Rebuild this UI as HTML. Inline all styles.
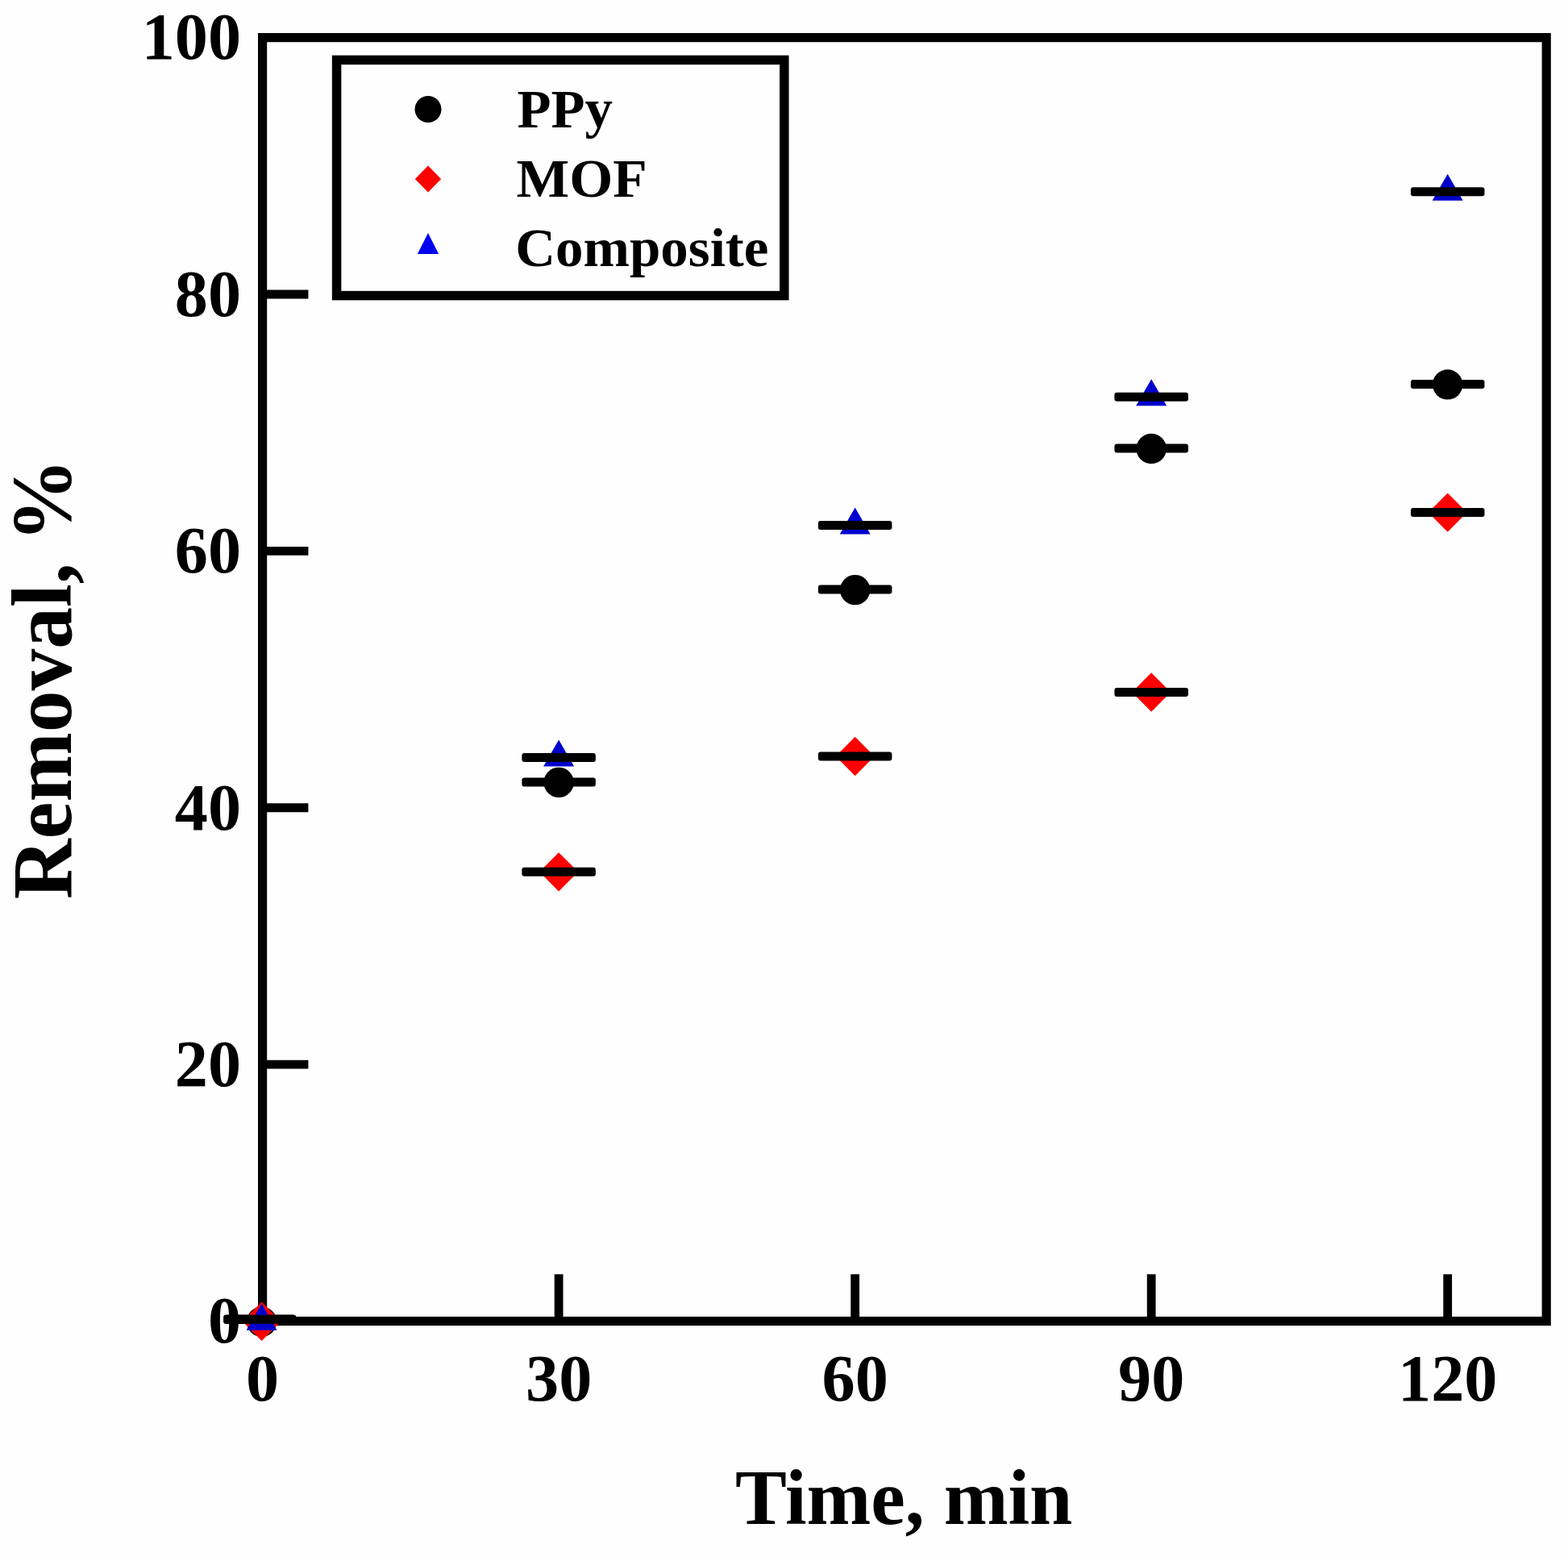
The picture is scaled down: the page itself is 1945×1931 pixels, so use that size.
<!DOCTYPE html>
<html lang="en">
<head>
<meta charset="utf-8">
<title>Removal vs Time</title>
<style>
html,body{margin:0;padding:0;background:#fefefe;}
body{width:1945px;height:1931px;overflow:hidden;}
svg{display:block;filter:blur(0.7px);}
text{fill:#000;}
</style>
</head>
<body>
<svg width="1945" height="1931" viewBox="0 0 1945 1931">
<rect x="0" y="0" width="1945" height="1931" fill="#fefefe"/>
<rect x="325.60" y="46.60" width="1592.60" height="1591.90" fill="none" stroke="#000" stroke-width="11.2"/>
<line x1="325.60" y1="1320.12" x2="382.40" y2="1320.12" stroke="#000" stroke-width="10.8"/>
<line x1="325.60" y1="1001.74" x2="382.40" y2="1001.74" stroke="#000" stroke-width="10.8"/>
<line x1="325.60" y1="683.36" x2="382.40" y2="683.36" stroke="#000" stroke-width="10.8"/>
<line x1="325.60" y1="364.98" x2="382.40" y2="364.98" stroke="#000" stroke-width="10.8"/>
<line x1="693.12" y1="1638.50" x2="693.12" y2="1580.30" stroke="#000" stroke-width="10.8"/>
<line x1="1060.65" y1="1638.50" x2="1060.65" y2="1580.30" stroke="#000" stroke-width="10.8"/>
<line x1="1428.17" y1="1638.50" x2="1428.17" y2="1580.30" stroke="#000" stroke-width="10.8"/>
<line x1="1795.69" y1="1638.50" x2="1795.69" y2="1580.30" stroke="#000" stroke-width="10.8"/>
<text transform="translate(299.00 1665.35) scale(0.985 1)" text-anchor="end" font-family="'Liberation Serif', serif" font-weight="bold" font-size="83.5">0</text>
<text transform="translate(299.00 1346.97) scale(0.985 1)" text-anchor="end" font-family="'Liberation Serif', serif" font-weight="bold" font-size="83.5">20</text>
<text transform="translate(299.00 1028.59) scale(0.985 1)" text-anchor="end" font-family="'Liberation Serif', serif" font-weight="bold" font-size="83.5">40</text>
<text transform="translate(299.00 710.21) scale(0.985 1)" text-anchor="end" font-family="'Liberation Serif', serif" font-weight="bold" font-size="83.5">60</text>
<text transform="translate(299.00 391.83) scale(0.985 1)" text-anchor="end" font-family="'Liberation Serif', serif" font-weight="bold" font-size="83.5">80</text>
<text transform="translate(299.00 73.45) scale(0.985 1)" text-anchor="end" font-family="'Liberation Serif', serif" font-weight="bold" font-size="83.5">100</text>
<text transform="translate(325.60 1737.40) scale(0.985 1)" text-anchor="middle" font-family="'Liberation Serif', serif" font-weight="bold" font-size="83.5">0</text>
<text transform="translate(693.12 1737.40) scale(0.985 1)" text-anchor="middle" font-family="'Liberation Serif', serif" font-weight="bold" font-size="83.5">30</text>
<text transform="translate(1060.65 1737.40) scale(0.985 1)" text-anchor="middle" font-family="'Liberation Serif', serif" font-weight="bold" font-size="83.5">60</text>
<text transform="translate(1428.17 1737.40) scale(0.985 1)" text-anchor="middle" font-family="'Liberation Serif', serif" font-weight="bold" font-size="83.5">90</text>
<text transform="translate(1795.69 1737.40) scale(0.985 1)" text-anchor="middle" font-family="'Liberation Serif', serif" font-weight="bold" font-size="83.5">120</text>
<text transform="translate(1121.10 1890.00) scale(0.982 1)" text-anchor="middle" font-family="'Liberation Serif', serif" font-weight="bold" font-size="97.5">Time, min</text>
<text transform="translate(88.30 842.00) rotate(-90) scale(0.977 1)" text-anchor="middle" font-family="'Liberation Serif', serif" font-weight="bold" font-size="106">Removal, %</text>
<circle cx="324.60" cy="1639.20" r="18.70" fill="#000"/>
<rect x="277.45" y="1630.80" width="89.50" height="11.0" rx="3" ry="3" fill="#000"/>
<circle cx="693.12" cy="970.40" r="18.70" fill="#000"/>
<rect x="647.37" y="964.40" width="91.50" height="11.0" rx="3" ry="3" fill="#000"/>
<circle cx="1060.65" cy="731.62" r="18.70" fill="#000"/>
<rect x="1014.90" y="725.62" width="91.50" height="11.0" rx="3" ry="3" fill="#000"/>
<circle cx="1428.17" cy="556.51" r="18.70" fill="#000"/>
<rect x="1382.42" y="550.51" width="91.50" height="11.0" rx="3" ry="3" fill="#000"/>
<circle cx="1795.69" cy="476.91" r="18.70" fill="#000"/>
<rect x="1749.94" y="470.91" width="91.50" height="11.0" rx="3" ry="3" fill="#000"/>
<polygon points="324.60,1614.50 348.60,1638.70 324.60,1662.90 300.60,1638.70" fill="#ff0000"/>
<rect x="277.45" y="1630.80" width="89.50" height="11.0" rx="3" ry="3" fill="#000"/>
<polygon points="693.12,1057.13 717.12,1081.34 693.12,1105.54 669.12,1081.34" fill="#ff0000"/>
<rect x="647.37" y="1075.84" width="91.50" height="11.0" rx="3" ry="3" fill="#000"/>
<polygon points="1060.65,913.86 1084.65,938.06 1060.65,962.26 1036.65,938.06" fill="#ff0000"/>
<rect x="1014.90" y="932.56" width="91.50" height="11.0" rx="3" ry="3" fill="#000"/>
<polygon points="1428.17,834.27 1452.17,858.47 1428.17,882.67 1404.17,858.47" fill="#ff0000"/>
<rect x="1382.42" y="852.97" width="91.50" height="11.0" rx="3" ry="3" fill="#000"/>
<polygon points="1795.69,611.40 1819.69,635.60 1795.69,659.80 1771.69,635.60" fill="#ff0000"/>
<rect x="1749.94" y="630.10" width="91.50" height="11.0" rx="3" ry="3" fill="#000"/>
<polygon points="324.60,1616.70 343.60,1649.70 305.60,1649.70" fill="#0000cc"/>
<rect x="277.45" y="1630.80" width="89.50" height="11.0" rx="3" ry="3" fill="#000"/>
<polygon points="693.12,917.50 712.12,950.50 674.12,950.50" fill="#0000cc"/>
<rect x="647.37" y="934.00" width="91.50" height="11.0" rx="3" ry="3" fill="#000"/>
<polygon points="1060.65,629.52 1079.65,662.52 1041.65,662.52" fill="#0000cc"/>
<rect x="1014.90" y="646.02" width="91.50" height="11.0" rx="3" ry="3" fill="#000"/>
<polygon points="1428.17,470.33 1447.17,503.33 1409.17,503.33" fill="#0000cc"/>
<rect x="1382.42" y="486.83" width="91.50" height="11.0" rx="3" ry="3" fill="#000"/>
<polygon points="1795.69,215.63 1814.69,248.63 1776.69,248.63" fill="#0000cc"/>
<rect x="1749.94" y="232.13" width="91.50" height="11.0" rx="3" ry="3" fill="#000"/>
<rect x="417.6" y="74.4" width="555.20" height="292.20" fill="#fefefe" stroke="#000" stroke-width="11.5"/>
<circle cx="531.00" cy="135.50" r="16.50" fill="#000"/>
<polygon points="531.00,205.40 547.20,221.90 531.00,238.40 514.80,221.90" fill="#ff0000"/>
<polygon points="531.0,289.0 544.2,315.0 517.8,315.0" fill="#0000f0"/>
<text transform="translate(641.50 158.00) scale(1.02 1)" text-anchor="start" font-family="'Liberation Serif', serif" font-weight="bold" font-size="67.5">PPy</text>
<text transform="translate(640.60 244.20) scale(1.03 1)" text-anchor="start" font-family="'Liberation Serif', serif" font-weight="bold" font-size="67.5">MOF</text>
<text transform="translate(639.20 330.20) scale(1.022 1)" text-anchor="start" font-family="'Liberation Serif', serif" font-weight="bold" font-size="67.5">Composite</text>
</svg>
</body>
</html>
